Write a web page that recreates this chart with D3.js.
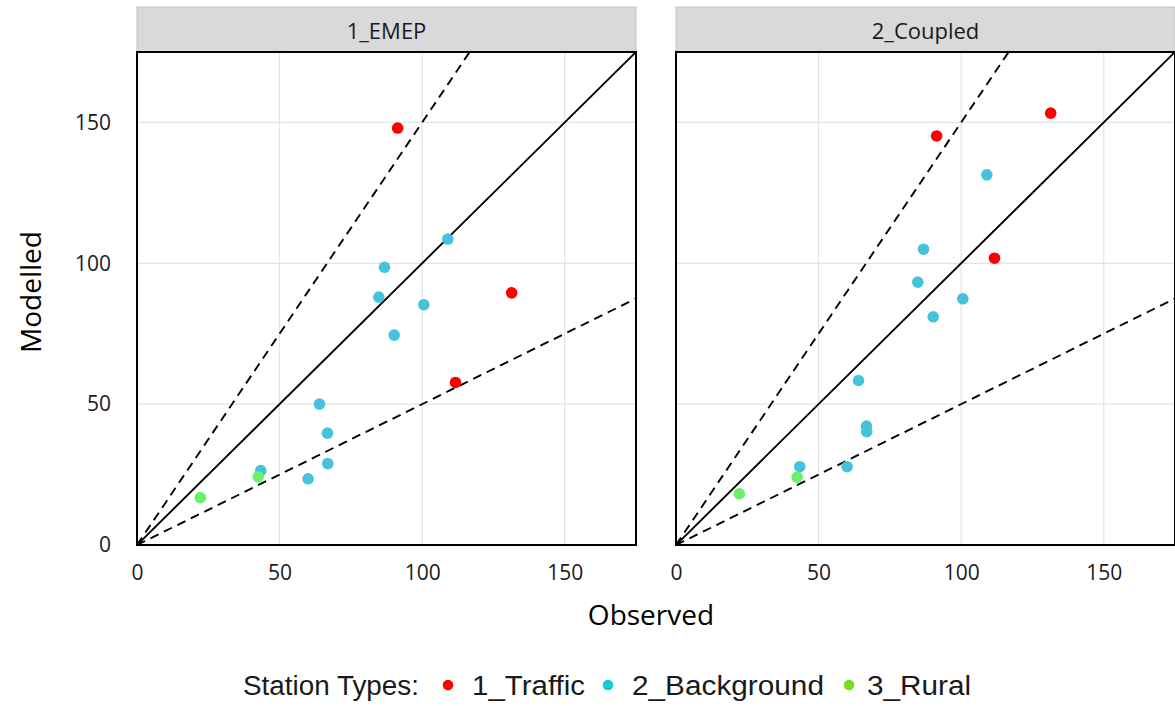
<!DOCTYPE html>
<html>
<head>
<meta charset="utf-8">
<script src="https://cdn.jsdelivr.net/npm/d3@7"></script>
<style>
  html, body { margin: 0; padding: 0; background: #ffffff; }
  svg { display: block; }
</style>
</head>
<body>
<script>
// ---- data ----
const panels = ["1_EMEP", "2_Coupled"];
const stationTypes = ["1_Traffic", "2_Background", "3_Rural"];
const stationType = ["1_Traffic", "1_Traffic", "1_Traffic",
  "2_Background", "2_Background", "2_Background", "2_Background", "2_Background",
  "2_Background", "2_Background", "2_Background", "2_Background", "2_Background",
  "3_Rural", "3_Rural"];
const observed        = [91.4, 131.4, 111.7, 109.0, 86.8, 84.8, 100.6, 90.2, 64.0, 66.8, 66.9, 60.0, 43.4, 42.5, 22.2];
const modelledEMEP    = [148.0, 89.5, 57.7, 108.6, 98.6, 88.0, 85.3, 74.5, 50.0, 39.7, 28.9, 23.5, 26.4, 24.2, 16.8];
const modelledCoupled = [145.2, 153.3, 101.8, 131.4, 105.0, 93.3, 87.4, 81.0, 58.4, 42.2, 40.2, 27.8, 27.8, 24.1, 18.2];
const xTicks = [0, 50, 100, 150];
const yTicks = [0, 50, 100, 150];
const refSlopes = [1.5, 1, 0.5];

const modelled = { "1_EMEP": modelledEMEP, "2_Coupled": modelledCoupled };

// ---- layout ----
const W = 1175, H = 706;
const panelLeft = [137, 676];
const panelW = 499;
const pTop = 52, pBottom = 545;
const stripTop = 7;
const DOMAIN = [0, 175];

const pointColor = d3.scaleOrdinal().domain(stationTypes).range(["#ff0000", "#45c3da", "#68f268"]);
const legendColor = d3.scaleOrdinal().domain(stationTypes).range(["#ff0000", "#15ccd6", "#77e01c"]);

const svg = d3.select("body").append("svg").attr("width", W).attr("height", H);

const y = d3.scaleLinear().domain(DOMAIN).range([pBottom, pTop]);

panels.forEach((p, pi) => {
  const x = d3.scaleLinear().domain(DOMAIN).range([panelLeft[pi], panelLeft[pi] + panelW]);
  const g = svg.append("g");

  // strip
  g.append("rect")
    .attr("x", panelLeft[pi]).attr("y", stripTop)
    .attr("width", panelW).attr("height", pTop - stripTop)
    .attr("fill", "#d9d9d9").attr("stroke", "#c4c4c4").attr("stroke-width", 1);
  g.append("text")
    .attr("x", panelLeft[pi] + panelW / 2).attr("y", (stripTop + pTop) / 2)
    .attr("text-anchor", "middle").attr("dominant-baseline", "central")
    .attr("font-family", "'Open Sans', sans-serif").attr("font-size", 22)
    .attr("fill", "#1a1a1a").text(p);

  // clip
  const clipId = "clip" + pi;
  svg.append("clipPath").attr("id", clipId).append("rect")
    .attr("x", panelLeft[pi]).attr("y", pTop).attr("width", panelW).attr("height", pBottom - pTop);

  // grid
  g.append("g").selectAll("line").data(xTicks.filter(t => t > 0)).join("line")
    .attr("x1", d => x(d)).attr("x2", d => x(d)).attr("y1", pTop).attr("y2", pBottom)
    .attr("stroke", "#e3e3e3").attr("stroke-width", 1.2);
  g.append("g").selectAll("line").data(yTicks.filter(t => t > 0)).join("line")
    .attr("x1", panelLeft[pi]).attr("x2", panelLeft[pi] + panelW).attr("y1", d => y(d)).attr("y2", d => y(d))
    .attr("stroke", "#e3e3e3").attr("stroke-width", 1.2);

  // reference lines
  const lg = g.append("g").attr("clip-path", `url(#${clipId})`);
  lg.selectAll("line").data(refSlopes).join("line")
    .attr("x1", x(0)).attr("y1", y(0))
    .attr("x2", s => x(Math.min(DOMAIN[1], DOMAIN[1] / s)))
    .attr("y2", s => y(Math.min(DOMAIN[1], DOMAIN[1] / s) * s))
    .attr("stroke", "#000").attr("stroke-width", 1.9)
    .attr("stroke-dasharray", s => s === 1 ? null : "9,6");

  // points
  lg.selectAll("circle").data(observed.map((o, i) => ({ o, m: modelled[p][i], t: stationType[i] })))
    .join("circle")
    .attr("cx", d => x(d.o)).attr("cy", d => y(d.m)).attr("r", 5.8)
    .attr("fill", d => pointColor(d.t));

  // panel border
  g.append("rect")
    .attr("x", panelLeft[pi]).attr("y", pTop).attr("width", panelW).attr("height", pBottom - pTop)
    .attr("fill", "none").attr("stroke", "#000").attr("stroke-width", 2);

  // x axis labels
  const xa = g.append("g").attr("transform", `translate(0,${pBottom + 8})`)
    .call(d3.axisBottom(x).tickValues(xTicks).tickSize(0).tickPadding(12).tickFormat(d3.format("d")));
  xa.select(".domain").remove();
  xa.selectAll("text").attr("font-family", "'Open Sans', sans-serif").attr("font-size", 21).attr("fill", "#1a1a1a");

  if (pi === 0) {
    const ya = g.append("g").attr("transform", `translate(${panelLeft[0] - 8},0)`)
      .call(d3.axisLeft(y).tickValues(yTicks).tickSize(0).tickPadding(18).tickFormat(d3.format("d")));
    ya.select(".domain").remove();
    ya.selectAll("text").attr("font-family", "'Open Sans', sans-serif").attr("font-size", 21).attr("fill", "#1a1a1a");
  }
});

// axis titles
svg.append("text")
  .attr("x", 651).attr("y", 614)
  .attr("text-anchor", "middle").attr("dominant-baseline", "central")
  .attr("font-family", "'Open Sans', sans-serif").attr("font-size", 28).attr("fill", "#000")
  .text("Observed");
svg.append("text")
  .attr("transform", "translate(30,292) rotate(-90)")
  .attr("text-anchor", "middle").attr("dominant-baseline", "central")
  .attr("font-family", "'Open Sans', sans-serif").attr("font-size", 28).attr("fill", "#000")
  .text("Modelled");

// legend
const leg = svg.append("g").attr("font-family", "'Liberation Sans', Arial, sans-serif").attr("font-size", 27).attr("fill", "#1a1a1a");
leg.append("text").attr("x", 243).attr("y", 686).attr("dominant-baseline", "central")
  .attr("textLength", 176).attr("lengthAdjust", "spacingAndGlyphs").text("Station Types:");
const legItems = [
  { t: stationTypes[0], dot: 448, tx: 472, w: 113 },
  { t: stationTypes[1], dot: 608, tx: 632, w: 192 },
  { t: stationTypes[2], dot: 849, tx: 867, w: 104 }
];
legItems.forEach(it => {
  leg.append("circle").attr("cx", it.dot).attr("cy", 685).attr("r", 5.3).attr("fill", legendColor(it.t));
  leg.append("text").attr("x", it.tx).attr("y", 686).attr("dominant-baseline", "central")
    .attr("textLength", it.w).attr("lengthAdjust", "spacingAndGlyphs").text(it.t);
});
</script>
</body>
</html>
